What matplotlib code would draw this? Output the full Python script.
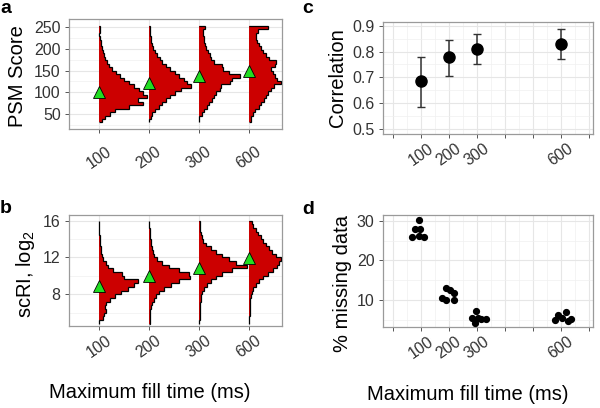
import numpy as np
import matplotlib
matplotlib.use("Agg")
import matplotlib.pyplot as plt
from matplotlib.ticker import MultipleLocator, FixedLocator

plt.rcParams['font.family'] = ['Liberation Sans', 'DejaVu Sans']
plt.rcParams['mathtext.fontset'] = 'custom'
plt.rcParams['mathtext.rm'] = 'Liberation Sans'
plt.rcParams['mathtext.it'] = 'Liberation Sans:italic'

# ---- data ----
fill_times = ["100", "200", "300", "600"]
fill_ms = [100, 200, 300, 600]

# panel a: PSM score histograms (bin edges 30..254 step 8), counts per bin
psm_edges = np.arange(30, 255, 8)
psm_100 = [3, 6, 11, 16, 30, 44, 39, 48, 44, 40, 35, 30, 25, 21, 17, 13, 10, 8, 6, 5, 4, 3, 2, 2, 1, 0, 1, 1]
psm_200 = [0, 1.5, 3, 6, 10, 13, 17, 21, 26, 32, 42, 38, 35, 30, 26, 21, 17, 13, 11, 8, 6, 4, 3, 2, 1.5, 1, 1, 1]
psm_300 = [0, 0, 2.5, 5, 8, 10, 13, 15, 17, 21, 22, 31, 33, 41, 30, 24, 23, 15, 12, 11, 9, 7, 6, 5, 5, 4, 4, 6]
psm_600 = [1.5, 1.7, 4, 6, 10, 12, 15, 17, 19, 22, 25, 32, 28, 26, 24, 22, 26, 27, 20, 17, 14, 12, 10, 8, 7, 7, 9, 19]
psm_median = [101, 122, 137, 148]

# panel b: scRI (log2) histograms (bin edges 4.8..16.0 step 0.4)
scri_edges = np.round(np.arange(4.8, 16.01, 0.4), 1)
scri_100 = [0, 3.5, 5, 7, 6, 7, 11, 16, 22, 29, 35, 39, 25, 23, 14, 9, 7, 4, 3, 2, 1.5, 1, 1, 0.7, 0, 0, 0, 0]
scri_200 = [0.5, 0.7, 1, 1.2, 2, 3, 5, 7, 10, 15, 22, 30, 41, 40, 30, 20, 13, 8, 5, 3.5, 2.5, 2, 1.5, 1, 1, 0.5, 0, 0]
scri_300 = [0, 0.5, 0.5, 0.7, 0.7, 1, 1.5, 2, 3, 5, 8, 12, 17, 23, 33, 48, 37, 30, 23, 17, 12, 7, 4, 2.5, 1.7, 1, 0.7, 0.5]
scri_600 = [0, 0, 0.5, 0.5, 0.7, 1, 1.2, 1.5, 2.5, 4, 7, 10, 14, 19, 24, 28, 30, 32, 27, 23, 20, 17, 14, 12, 9, 7, 4, 2.5]
scri_median = [8.9, 10.0, 10.9, 11.9]

# panel c: correlation with error bars
corr = [0.685, 0.781, 0.811, 0.831]
corr_lo = [0.585, 0.707, 0.750, 0.772]
corr_hi = [0.778, 0.844, 0.868, 0.887]

# panel d: % missing data, jittered replicates
miss_x = [93, 79, 99, 70, 94, 112,
          192, 206, 221, 178, 192, 218,
          299, 285, 305, 332, 293, 317,
          579, 591, 606, 620, 638, 626]
miss_y = [30.2, 27.9, 27.9, 26.0, 26.2, 25.8,
          13.0, 12.5, 11.9, 10.7, 10.2, 10.0,
          7.4, 5.5, 5.6, 5.3, 4.4, 5.2,
          5.1, 6.2, 5.6, 7.0, 5.4, 4.8]

red = '#CC0000'
green = '#22DD22'
count_scale = 1 / 50.0  # category units per count


def style_axes(ax):
    for s in ax.spines.values():
        s.set_color('#9a9a9a')
        s.set_linewidth(0.9)
    ax.grid(True, which='major', color='#E6E6E6', lw=0.8)
    ax.grid(True, which='minor', color='#F0F0F0', lw=0.5)
    ax.set_axisbelow(True)
    ax.tick_params(which='major', colors='#555555', labelcolor='#333333',
                   length=3, width=0.7, labelsize=11.5, pad=3)
    ax.tick_params(which='minor', length=0)


def hist_panel(ax, edges, counts_list, medians):
    pos = np.arange(1, len(counts_list) + 1)
    for p, counts in zip(pos, counts_list):
        vals = p + np.array(counts) * count_scale
        ax.stairs(vals, edges, baseline=p, orientation='horizontal',
                  fill=True, color=red, zorder=2)
        ax.stairs(vals, edges, baseline=p, orientation='horizontal',
                  fill=False, color='black', lw=0.9, zorder=3)
    ax.plot(pos, medians, linestyle='none', marker='^', markersize=8,
            markerfacecolor=green, markeredgecolor='black', markeredgewidth=0.6, zorder=4)
    ax.set_xlim(0.4, 4.66)
    ax.set_xticks(pos)
    ax.set_xticklabels(fill_times)


fig = plt.figure(figsize=(6, 4.08), dpi=100)

# a
ax_a = fig.add_axes([0.115, 0.684, 0.355, 0.270])
style_axes(ax_a)
hist_panel(ax_a, psm_edges, [psm_100, psm_200, psm_300, psm_600], psm_median)
ax_a.set_ylim(15, 270)
ax_a.set_yticks([50, 100, 150, 200, 250])
ax_a.yaxis.set_minor_locator(MultipleLocator(25))
ax_a.set_ylabel('PSM Score', fontsize=14.5)
ax_a.yaxis.set_label_coords(-0.197, 0.48)
ax_a.tick_params(axis='x', pad=18)
plt.setp(ax_a.get_xticklabels(), rotation=35, ha='center', va='center')

# b
ax_b = fig.add_axes([0.115, 0.201, 0.355, 0.272])
style_axes(ax_b)
hist_panel(ax_b, scri_edges, [scri_100, scri_200, scri_300, scri_600], scri_median)
ax_b.set_ylim(4.55, 16.6)
ax_b.set_yticks([8, 12, 16])
ax_b.yaxis.set_minor_locator(MultipleLocator(2))
ax_b.set_ylabel('scRI, log$_2$', fontsize=14.5)
ax_b.yaxis.set_label_coords(-0.15, 0.47)
ax_b.tick_params(axis='x', pad=12)
plt.setp(ax_b.get_xticklabels(), rotation=35, ha='center', va='center')

# c
ax_c = fig.add_axes([0.638, 0.672, 0.350, 0.2745])
style_axes(ax_c)
yerr = [np.array(corr) - np.array(corr_lo), np.array(corr_hi) - np.array(corr)]
ax_c.errorbar(fill_ms, corr, yerr=yerr, fmt='o', color='black', ecolor='#333333',
              elinewidth=1.1, capsize=3, capthick=1.0, markersize=8, zorder=3)
ax_c.set_xlim(-35, 715)
ax_c.set_ylim(0.48, 0.916)
ax_c.set_yticks([0.5, 0.6, 0.7, 0.8, 0.9])
ax_c.yaxis.set_minor_locator(MultipleLocator(0.05))
ax_c.set_ylabel('Correlation', fontsize=14.5)
ax_c.yaxis.set_label_coords(-0.171, 0.5)

# d
ax_d = fig.add_axes([0.638, 0.1985, 0.350, 0.2745])
style_axes(ax_d)
ax_d.plot(miss_x, miss_y, linestyle='none', marker='o', markersize=4.2, color='black', zorder=3)
ax_d.set_xlim(-35, 715)
ax_d.set_ylim(3.3, 31.4)
ax_d.set_yticks([10, 20, 30])
ax_d.yaxis.set_minor_locator(MultipleLocator(5))
ax_d.set_ylabel('% missing data', fontsize=14.5)
ax_d.yaxis.set_label_coords(-0.148, 0.39)

for ax in (ax_c, ax_d):
    ticks = list(range(0, 701, 100))
    ax.xaxis.set_major_locator(FixedLocator(ticks))
    ax.set_xticklabels([str(t) if str(t) in fill_times else '' for t in ticks])
    ax.xaxis.set_minor_locator(MultipleLocator(50))
    ax.tick_params(axis='x', pad=12)
    plt.setp(ax.get_xticklabels(), rotation=35, ha='center', va='center')

fig.text(150 / 600, 1 - 393 / 408, 'Maximum fill time (ms)', ha='center', va='center', fontsize=14.5)
fig.text(468 / 600, 1 - 395 / 408, 'Maximum fill time (ms)', ha='center', va='center', fontsize=14.5)

for lab, x, y in [('a', 0, 0), ('b', 0, 200), ('c', 302, 0), ('d', 302, 201)]:
    fig.text(x / 600, 1 - y / 408, lab, fontsize=14, fontweight='bold', ha='left', va='top')

fig.savefig('out.png', dpi=100)
